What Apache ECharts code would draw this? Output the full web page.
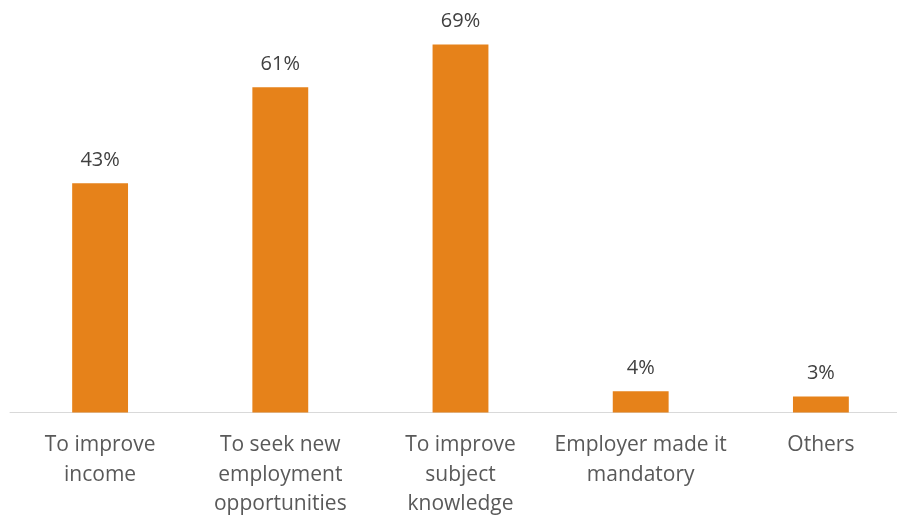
<!DOCTYPE html>
<html><head><meta charset="utf-8">
<script src="https://cdn.jsdelivr.net/npm/echarts@6/dist/echarts.min.js"></script>
<style>html,body{margin:0;padding:0;background:#fff}#c{width:897px;height:517px}</style>
</head><body><div id="c"></div>
<script>
var categories = ["To improve\nincome", "To seek new\nemployment\nopportunities", "To improve\nsubject\nknowledge", "Employer made it\nmandatory", "Others"];
var values = [43, 61, 69, 4, 3];

var chart = echarts.init(document.getElementById('c'), null, {renderer: 'canvas'});
chart.setOption({
  animation: false,
  grid: {left: 10, width: 901, top: 12.5, bottom: 104.5, containLabel: false, outerBoundsMode: 'none'},
  xAxis: {
    type: 'category', data: categories,
    axisLine: {lineStyle: {color: '#D9D9D9', width: 1}},
    axisTick: {show: false},
    axisLabel: {color: '#595959', fontFamily: 'Open Sans', fontSize: 21, lineHeight: 29.5, margin: 18, interval: 0}
  },
  yAxis: {type: 'value', min: 0, max: 75, show: false, splitLine: {show: false}},
  series: [{
    type: 'bar', data: values, barCategoryGap: '69%',
    itemStyle: {color: '#E6821A'},
    label: {show: true, position: 'top', formatter: '{c}%', color: '#404040', fontFamily: 'Open Sans', fontSize: 20, distance: 13}
  }]
});
</script></body></html>
